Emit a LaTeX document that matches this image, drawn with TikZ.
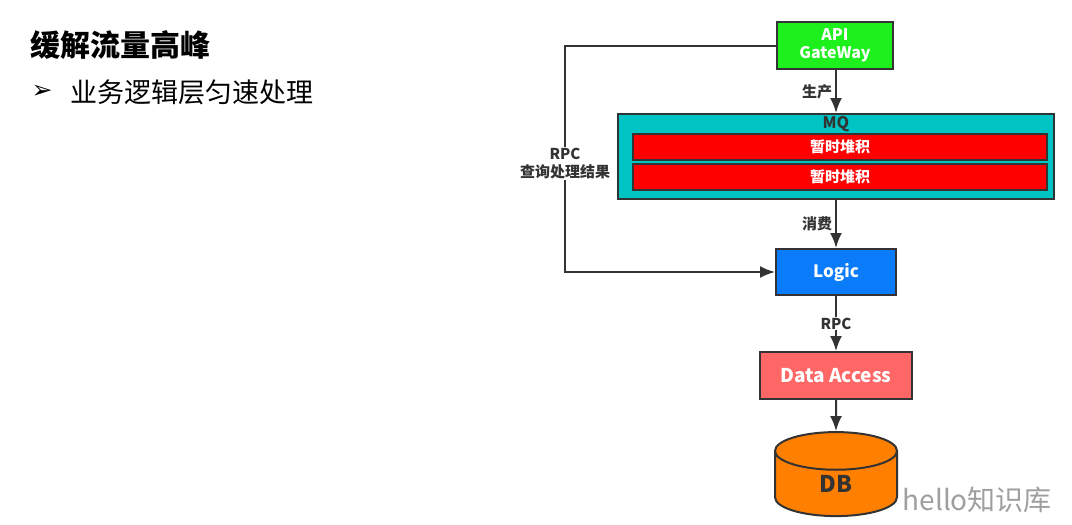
\documentclass[tikz,border=0pt]{standalone}
\usepackage{fontspec}
\setmainfont{Noto Sans CJK SC}
\newfontfamily\symfont{DejaVu Sans}
\usetikzlibrary{shapes.geometric,arrows.meta}
\definecolor{edge}{HTML}{333333}
\definecolor{gwgreen}{HTML}{1EF01E}
\definecolor{mqteal}{HTML}{00C4C4}
\definecolor{logicblue}{HTML}{0A7CFA}
\definecolor{dasalmon}{HTML}{FF6666}
\definecolor{dborange}{HTML}{FF8000}
\begin{document}
\begin{tikzpicture}[>={Latex[length=15pt,width=12pt]},x=1pt,y=-1pt,
  box/.style={draw=edge,line width=2pt,text=white,align=center,inner sep=0pt,
    font=\bfseries\fontsize{16}{18}\selectfont},
  lbl/.style={text=edge,align=center,inner sep=1pt,
    font=\bfseries\fontsize{15}{18}\selectfont},
  conn/.style={draw=edge,line width=2pt,->}]
\useasboundingbox (0,0) rectangle (1072,525);
% left text
\node[anchor=west,font=\bfseries\fontsize{30}{34}\selectfont] (title) at (27,45) {缓解流量高峰};
\node[anchor=west,font=\symfont\bfseries\fontsize{25}{28}\selectfont] (tick) at (28,92) {➢};
\node[anchor=west,font=\fontsize{27}{30}\selectfont] (sub) at (67,92) {业务逻辑层匀速处理};
% boxes
\node[box,fill=gwgreen,minimum width=116,minimum height=47] (gw) at (835,45.5) {API\\GateWay};
\node[box,fill=mqteal,minimum width=436,minimum height=85] (mq) at (836,156.5) {};
\node[text=edge,font=\bfseries\fontsize{16}{18}\selectfont] (mqtitle) at (836,124) {MQ};
\foreach \y/\n in {147/a,177/b}
{
    \node[box,fill=red,line width=1.5pt,minimum width=414,minimum height=26,font=\bfseries\fontsize{15}{17}\selectfont] (bar\n) at (840,\y) {暂时堆积};
}
\node[box,fill=logicblue,minimum width=120,minimum height=46,font=\bfseries\fontsize{17}{19}\selectfont] (logic) at (836,272) {Logic};
\node[box,fill=dasalmon,minimum width=152,minimum height=47,font=\bfseries\fontsize{19}{21}\selectfont] (da) at (836,375.5) {Data Access};
\node[box,fill=dborange,cylinder,shape border rotate=90,aspect=1.15,minimum width=122,minimum height=84,
  text=edge,font=\bfseries\fontsize{23}{25}\selectfont] (db) at (836,484) {DB};
% connectors
\draw[conn] (gw.south -| mq.north) -- node[lbl,left=2pt]{生产} (mq.north);
\draw[conn] (mq.south) -- node[lbl,left=2pt]{消费} (logic.north);
\draw[conn] (logic.south) -- node[lbl,fill=white]{RPC} (da.north);
\draw[conn] (da.south) -- (db.north);
\coordinate (bend) at (565,45.5);
\draw[conn] (gw.west) -- (bend) |- node[lbl,fill=white,pos=0.26]{RPC\\查询处理结果} (logic.west);
% watermark
\node[anchor=west,text=gray!75,font=\fontsize{28}{32}\selectfont] (mark) at (899,500) {hello知识库};
\end{tikzpicture}
\end{document}
